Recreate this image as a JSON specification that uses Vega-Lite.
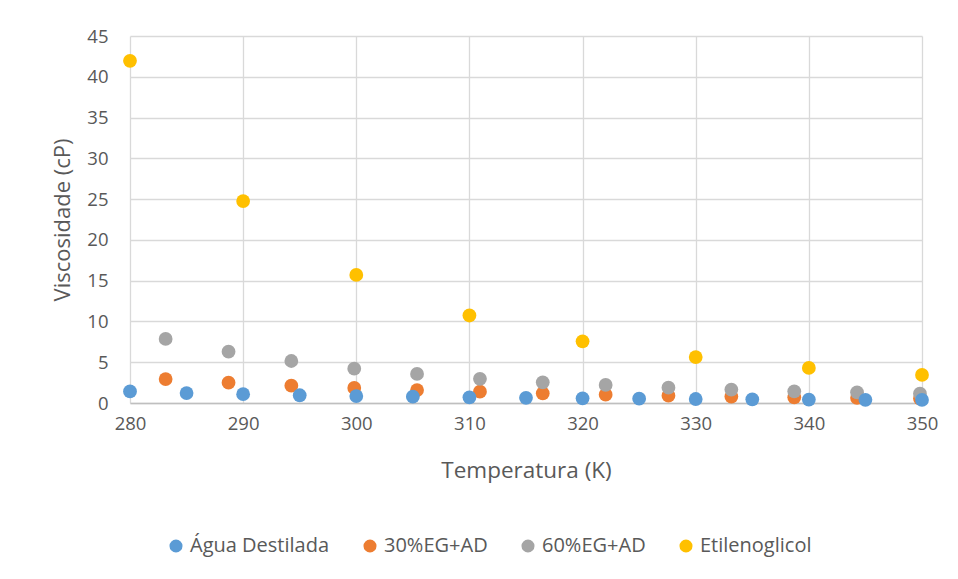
{
  "$schema": "https://vega.github.io/schema/vega-lite/v6.json",
  "width": 792,
  "height": 367,
  "autosize": "none",
  "padding": {"left": 130, "top": 36, "right": 36, "bottom": 176},
  "background": "white",
  "config": {
    "view": {"stroke": null},
    "font": "Open Sans",
    "axis": {"gridColor": "#d9d9d9", "gridWidth": 1.3, "labelColor": "#595959", "titleColor": "#595959", "labelFont": "Open Sans", "titleFont": "Open Sans", "titleFontWeight": "normal", "ticks": false}
  },
  "data": {
    "values": [
      {"s": "Água Destilada", "T": 280, "mu": 1.42},
      {"s": "Água Destilada", "T": 285, "mu": 1.22},
      {"s": "Água Destilada", "T": 290, "mu": 1.08},
      {"s": "Água Destilada", "T": 295, "mu": 0.95},
      {"s": "Água Destilada", "T": 300, "mu": 0.85},
      {"s": "Água Destilada", "T": 305, "mu": 0.77},
      {"s": "Água Destilada", "T": 310, "mu": 0.69},
      {"s": "Água Destilada", "T": 315, "mu": 0.63},
      {"s": "Água Destilada", "T": 320, "mu": 0.58},
      {"s": "Água Destilada", "T": 325, "mu": 0.53},
      {"s": "Água Destilada", "T": 330, "mu": 0.49},
      {"s": "Água Destilada", "T": 335, "mu": 0.45},
      {"s": "Água Destilada", "T": 340, "mu": 0.42},
      {"s": "Água Destilada", "T": 345, "mu": 0.39},
      {"s": "Água Destilada", "T": 350, "mu": 0.37},
      {"s": "30%EG+AD", "T": 283.15, "mu": 2.94},
      {"s": "30%EG+AD", "T": 288.71, "mu": 2.49},
      {"s": "30%EG+AD", "T": 294.26, "mu": 2.13},
      {"s": "30%EG+AD", "T": 299.82, "mu": 1.84},
      {"s": "30%EG+AD", "T": 305.37, "mu": 1.59},
      {"s": "30%EG+AD", "T": 310.93, "mu": 1.39},
      {"s": "30%EG+AD", "T": 316.48, "mu": 1.19},
      {"s": "30%EG+AD", "T": 322.04, "mu": 1.02},
      {"s": "30%EG+AD", "T": 327.59, "mu": 0.9},
      {"s": "30%EG+AD", "T": 333.15, "mu": 0.79},
      {"s": "30%EG+AD", "T": 338.71, "mu": 0.7},
      {"s": "30%EG+AD", "T": 344.26, "mu": 0.62},
      {"s": "30%EG+AD", "T": 349.82, "mu": 0.54},
      {"s": "60%EG+AD", "T": 283.15, "mu": 7.85},
      {"s": "60%EG+AD", "T": 288.71, "mu": 6.29},
      {"s": "60%EG+AD", "T": 294.26, "mu": 5.15},
      {"s": "60%EG+AD", "T": 299.82, "mu": 4.21},
      {"s": "60%EG+AD", "T": 305.37, "mu": 3.56},
      {"s": "60%EG+AD", "T": 310.93, "mu": 2.97},
      {"s": "60%EG+AD", "T": 316.48, "mu": 2.53},
      {"s": "60%EG+AD", "T": 322.04, "mu": 2.21},
      {"s": "60%EG+AD", "T": 327.59, "mu": 1.88},
      {"s": "60%EG+AD", "T": 333.15, "mu": 1.64},
      {"s": "60%EG+AD", "T": 338.71, "mu": 1.43},
      {"s": "60%EG+AD", "T": 344.26, "mu": 1.31},
      {"s": "60%EG+AD", "T": 349.82, "mu": 1.14},
      {"s": "Etilenoglicol", "T": 280, "mu": 41.95},
      {"s": "Etilenoglicol", "T": 290, "mu": 24.76},
      {"s": "Etilenoglicol", "T": 300, "mu": 15.7},
      {"s": "Etilenoglicol", "T": 310, "mu": 10.73},
      {"s": "Etilenoglicol", "T": 320, "mu": 7.56},
      {"s": "Etilenoglicol", "T": 330, "mu": 5.63},
      {"s": "Etilenoglicol", "T": 340, "mu": 4.3},
      {"s": "Etilenoglicol", "T": 350, "mu": 3.44}
    ]
  },
  "mark": {"type": "circle", "size": 190, "opacity": 1},
  "encoding": {
    "x": {
      "field": "T", "type": "quantitative",
      "scale": {"domain": [280, 350], "nice": false, "zero": false},
      "axis": {"values": [280, 290, 300, 310, 320, 330, 340, 350], "title": "Temperatura (K)", "titleFontSize": 22.5, "labelFontSize": 18.5, "labelFlush": false, "labelPadding": 11, "titlePadding": 27, "domainColor": "#bfbfbf", "domainWidth": 1.3}
    },
    "y": {
      "field": "mu", "type": "quantitative",
      "scale": {"domain": [0, 45], "nice": false},
      "axis": {"values": [0, 5, 10, 15, 20, 25, 30, 35, 40, 45], "title": "Viscosidade (cP)", "titleFontSize": 22, "labelFontSize": 18.5, "labelPadding": 22, "titlePadding": 12, "domain": false}
    },
    "color": {
      "field": "s", "type": "nominal",
      "scale": {"domain": ["Água Destilada", "30%EG+AD", "60%EG+AD", "Etilenoglicol"], "range": ["#5B9BD5", "#ED7D31", "#A5A5A5", "#FFC000"]},
      "legend": {"title": null, "orient": "none", "legendX": 36, "legendY": 500, "direction": "horizontal", "columns": 4, "symbolType": "circle", "symbolSize": 170, "labelFontSize": 20, "labelColor": "#595959", "labelFont": "Open Sans", "columnPadding": 30, "labelOffset": 4}
    },
    "order": {"field": "s", "sort": "ascending"}
  }
}
